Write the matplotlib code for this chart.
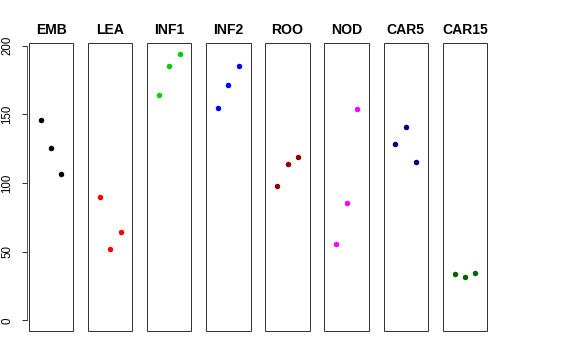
import matplotlib
matplotlib.use("Agg")
import matplotlib.pyplot as plt
from matplotlib.patches import Rectangle

plt.rcParams['font.family'] = ['Liberation Sans', 'DejaVu Sans']

tissues = ["EMB", "LEA", "INF1", "INF2", "ROO", "NOD", "CAR5", "CAR15"]
colors = ["black", "#FF0000", "#00CD00", "#0000FF", "#8B0000", "#FF00FF", "#000080", "#006400"]
reps = [1, 2, 3]

emb = [145.9, 125.5, 106.5]
lea = [89.8, 52.2, 64.1]
inf1 = [163.9, 185.0, 194.2]
inf2 = [154.4, 171.2, 185.5]
roo = [97.8, 114.1, 118.9]
nod = [55.6, 85.4, 154.1]
car5 = [128.2, 141.0, 115.3]
car15 = [33.9, 31.8, 34.7]
values = [emb, lea, inf1, inf2, roo, nod, car5, car15]

fig = plt.figure(figsize=(8, 5), dpi=72)

left0 = 29 / 576
width = 44.3 / 576
step = 59.1 / 576
bottom = 1 - 331 / 360
height = (331 - 42.7) / 360

for i in range(len(tissues)):
    ax = fig.add_axes([left0 + i * step, bottom, width, height])
    ax.plot(reps, values[i], 'o', color=colors[i], markersize=5.5, markeredgewidth=0)
    ax.set_xlim(-0.16, 4.16)
    ax.set_ylim(-7.8, 202.2)
    ax.set_title(tissues[i], fontsize=14, fontweight='bold', pad=8.5)
    for s in ax.spines.values():
        s.set_visible(False)
    ax.add_patch(Rectangle((0, 0), 1, 1, transform=ax.transAxes, fill=False,
                           edgecolor='#333333', linewidth=1, clip_on=False))
    ax.set_xticks([])
    if i == 0:
        ax.spines['left'].set_visible(True)
        ax.spines['left'].set_position(('outward', 2.3))
        ax.spines['left'].set_bounds(0, 200)
        ax.spines['left'].set_color('#333333')
        ax.set_yticks([0, 50, 100, 150, 200])
        ax.tick_params(axis='y', length=5.5, width=1, color='#333333',
                       labelsize=11.5, pad=8)
        for lab in ax.get_yticklabels():
            lab.set_rotation(90)
            lab.set_va('center')
    else:
        ax.set_yticks([])

fig.savefig("out.png", dpi=72)
